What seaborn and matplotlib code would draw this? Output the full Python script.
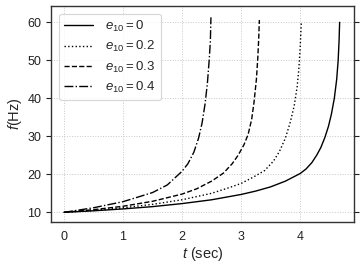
import matplotlib
matplotlib.use("Agg")
import matplotlib.pyplot as plt
import seaborn as sns
import pandas as pd

# Data
t_e0 = [0, 0.5, 1.0, 1.5, 2.0, 2.5, 3.0, 3.25, 3.5, 3.75, 4.0, 4.1, 4.2, 4.28, 4.35, 4.42, 4.48, 4.53, 4.58, 4.62, 4.645, 4.66, 4.67]
f_e0 = [10, 10.4, 10.9, 11.5, 12.3, 13.3, 14.7, 15.6, 16.7, 18.2, 20.2, 21.4, 23.1, 25.0, 27.0, 29.7, 32.6, 35.8, 40.0, 45.0, 50.0, 55.0, 60.0]

t_e02 = [0, 0.5, 1.0, 1.5, 2.0, 2.5, 2.8, 3.0, 3.2, 3.4, 3.55, 3.65, 3.75, 3.83, 3.9, 3.95, 3.98, 4.0, 4.02]
f_e02 = [10, 10.5, 11.2, 12.1, 13.3, 15.0, 16.5, 17.6, 19.2, 21.0, 23.5, 26.0, 29.5, 33.5, 38.0, 43.0, 48.0, 53.0, 59.8]

t_e03 = [0, 0.5, 1.0, 1.5, 2.0, 2.25, 2.5, 2.7, 2.85, 2.95, 3.05, 3.12, 3.18, 3.22, 3.26, 3.285, 3.30, 3.31]
f_e03 = [10, 10.7, 11.6, 12.9, 14.8, 16.2, 18.2, 20.3, 22.8, 25.0, 27.8, 30.5, 34.5, 39.0, 45.0, 51.0, 56.0, 60.6]

t_e04 = [0, 0.5, 1.0, 1.5, 1.75, 2.0, 2.1, 2.2, 2.28, 2.34, 2.39, 2.43, 2.46, 2.48, 2.49]
f_e04 = [10, 11.2, 12.8, 15.2, 17.2, 20.8, 22.8, 25.8, 29.5, 33.5, 38.5, 44.0, 50.0, 55.0, 61.3]

labels = [r"$e_{10}=0$", r"$e_{10}=0.2$", r"$e_{10}=0.3$", r"$e_{10}=0.4$"]
series_t = [t_e0, t_e02, t_e03, t_e04]
series_f = [f_e0, f_e02, f_e03, f_e04]
styles = ["-", ":", "--", "-."]

x_ticks = [0, 1, 2, 3, 4]
y_ticks = [10, 20, 30, 40, 50, 60]

sns.set_theme(style="ticks")
plt.rcParams["font.family"] = ["Liberation Sans", "DejaVu Sans"]
plt.rcParams["mathtext.fontset"] = "custom"
plt.rcParams["mathtext.rm"] = "Liberation Sans"
plt.rcParams["mathtext.it"] = "Liberation Sans:italic"

fig = plt.figure(figsize=(3.64, 2.71), dpi=100)
ax = fig.add_axes([0.140, 0.180, 0.832, 0.798])

for t, f, ls, lab in zip(series_t, series_f, styles, labels):
    df = pd.DataFrame({"t": t, "f": f})
    sns.lineplot(data=df, x="t", y="f", ax=ax, color="black", linestyle=ls,
                 linewidth=1.0, label=lab, sort=False)

ax.set_xlim(-0.22, 4.91)
ax.set_ylim(7.4, 64.3)
ax.set_xticks(x_ticks)
ax.set_yticks(y_ticks)
ax.grid(True, linestyle=":", color="#c8c8c8", linewidth=0.7)
ax.set_axisbelow(True)

ax.tick_params(axis="x", length=0, labelsize=9, pad=6, colors="#222222")
ax.tick_params(axis="y", length=3.5, width=0.8, labelsize=9, right=True, left=True,
               direction="out", colors="#222222")
for sp in ax.spines.values():
    sp.set_color("#333333")
    sp.set_linewidth(1.0)

ax.set_xlabel(r"$t$ (sec)", fontsize=10.5, labelpad=2)
ax.set_ylabel(r"$f$(Hz)", fontsize=10.5, labelpad=2)

leg = ax.legend(loc="upper left", fontsize=9.5, frameon=True, handlelength=2.2,
                borderpad=0.4, labelspacing=0.4, handletextpad=0.9,
                bbox_to_anchor=(0.005, 0.995))
leg.get_frame().set_edgecolor("#cccccc")
leg.get_frame().set_linewidth(0.8)

fig.savefig("out.png", dpi=100)
